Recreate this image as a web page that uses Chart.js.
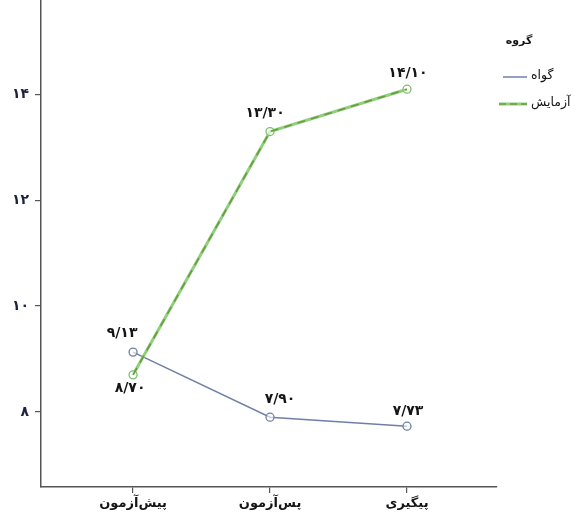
<!DOCTYPE html>
<html>
<head>
<meta charset="utf-8">
<script src="https://cdn.jsdelivr.net/npm/chart.js@4/dist/chart.umd.min.js"></script>
<style>
  body { margin: 0; background: #fff; }
  #wrap { width: 577px; height: 518px; overflow: hidden; }
  #c { display: block; margin-top: -6px; }
</style>
</head>
<body>
<div id="wrap"><canvas id="c" width="577" height="524"></canvas></div>
<script>
// data
var categories = ['پیش‌آزمون', 'پس‌آزمون', 'پیگیری'];
var controlValues = [9.13, 7.90, 7.73];
var experimentValues = [8.70, 13.30, 14.10];
var yTicks = [8, 10, 12, 14];
var seriesNames = ['گواه', 'آزمایش'];
var legendTitle = 'گروه';

var FONT = '"DejaVu Sans", sans-serif';
var SHIFT = 6; // canvas is pulled up by this much

function fa(s) {
    return String(s).replace(/\d/g, function (d) { return '۰۱۲۳۴۵۶۷۸۹'[d]; });
}
function valLabel(v) {
    return fa(v.toFixed(2).replace('.', '/'));
}
function toPoints(arr) {
    return arr.map(function (v, i) { return { x: i, y: v }; });
}

// label offsets from each point (px)
var labelOffsets = {
    0: [[-11, -19], [10, -18], [1, -15]],
    1: [[-3, 13], [-5, -18], [1, -16]]
};

var valueLabels = {
    id: 'valueLabels',
    afterDatasetsDraw: function (chart) {
        var ctx = chart.ctx;
        ctx.save();
        ctx.font = 'bold 14px ' + FONT;
        ctx.fillStyle = '#151515';
        ctx.textAlign = 'center';
        ctx.textBaseline = 'middle';
        [0, 1].forEach(function (di) {
            var meta = chart.getDatasetMeta(di);
            var vals = di === 0 ? controlValues : experimentValues;
            meta.data.forEach(function (pt, i) {
                var off = labelOffsets[di][i];
                ctx.fillText(valLabel(vals[i]), pt.x + off[0], pt.y + off[1]);
            });
        });
        ctx.restore();
    }
};

var sideLegend = {
    id: 'sideLegend',
    afterDraw: function (chart) {
        var ctx = chart.ctx;
        ctx.save();
        ctx.translate(0, SHIFT);
        ctx.fillStyle = '#151515';
        ctx.textBaseline = 'middle';
        ctx.font = 'bold 11px ' + FONT;
        ctx.textAlign = 'center';
        ctx.fillText(legendTitle, 519, 41);

        ctx.font = '12.5px ' + FONT;
        ctx.textAlign = 'left';
        // control
        ctx.strokeStyle = '#6f7fa8';
        ctx.lineWidth = 1.5;
        ctx.beginPath(); ctx.moveTo(503, 77); ctx.lineTo(527, 77); ctx.stroke();
        ctx.fillText(seriesNames[0], 531, 76);
        // experiment
        ctx.strokeStyle = '#8fd07f';
        ctx.lineWidth = 3;
        ctx.beginPath(); ctx.moveTo(499, 104); ctx.lineTo(527, 104); ctx.stroke();
        ctx.strokeStyle = '#6b9a3c';
        ctx.lineWidth = 1.6;
        ctx.setLineDash([7, 4]);
        ctx.beginPath(); ctx.moveTo(499, 104); ctx.lineTo(527, 104); ctx.stroke();
        ctx.setLineDash([]);
        ctx.fillStyle = '#151515';
        ctx.fillText(seriesNames[1], 531, 103);
        ctx.restore();
    }
};

function noPad(scale) {
    scale.paddingTop = 0;
    scale.paddingBottom = 0;
    scale.paddingLeft = 0;
    scale.paddingRight = 0;
}

new Chart(document.getElementById('c'), {
    type: 'line',
    data: {
        datasets: [{
            label: seriesNames[0],
            data: toPoints(controlValues),
            borderColor: '#6f7fa8',
            borderWidth: 1.5,
            pointRadius: 4,
            pointBorderWidth: 1.3,
            pointBorderColor: '#6f7fa8',
            pointBackgroundColor: 'rgba(255,255,255,0.6)',
            tension: 0,
            clip: false,
            order: 2
        }, {
            label: seriesNames[1],
            data: toPoints(experimentValues),
            borderColor: '#8fd07f',
            borderWidth: 3,
            pointRadius: 4,
            pointBorderWidth: 1.3,
            pointBorderColor: '#7cbf6e',
            pointBackgroundColor: 'rgba(255,255,255,0.6)',
            tension: 0,
            clip: false,
            order: 1
        }, {
            label: 'dash',
            data: toPoints(experimentValues),
            borderColor: '#6b9a3c',
            borderWidth: 1.6,
            borderDash: [8, 6],
            pointRadius: 0,
            tension: 0,
            clip: false,
            order: 0
        }]
    },
    options: {
        responsive: false,
        animation: false,
        layout: { padding: { right: 80, top: 0, left: 0, bottom: 0 } },
        plugins: {
            legend: { display: false },
            tooltip: { enabled: false }
        },
        scales: {
            x: {
                type: 'linear',
                min: -0.672,
                max: 2.657,
                afterBuildTicks: function (scale) {
                    scale.ticks = categories.map(function (c, i) { return { value: i }; });
                },
                afterFit: function (scale) { scale.height = 31; noPad(scale); },
                ticks: {
                    callback: function (v) { return categories[v]; },
                    color: '#151515',
                    font: { family: FONT, size: 13, weight: 'bold' },
                    padding: 3,
                    maxRotation: 0,
                    autoSkip: false
                },
                grid: { drawOnChartArea: false, drawTicks: true, tickLength: 6, color: '#555', lineWidth: 1.2 },
                border: { display: true, color: '#555', width: 1.5 }
            },
            y: {
                min: 6.58,
                max: 15.80,
                afterBuildTicks: function (scale) {
                    scale.ticks = yTicks.map(function (v) { return { value: v }; });
                },
                afterFit: function (scale) { scale.width = 41; noPad(scale); },
                ticks: {
                    callback: function (v) { return fa(v); },
                    color: '#1c2340',
                    font: { family: FONT, size: 14, weight: 'bold' },
                    padding: 6
                },
                grid: { drawOnChartArea: false, drawTicks: true, tickLength: 6, color: '#555', lineWidth: 1.2 },
                border: { display: true, color: '#555', width: 1.5 }
            }
        }
    },
    plugins: [valueLabels, sideLegend]
});
</script>
</body>
</html>
